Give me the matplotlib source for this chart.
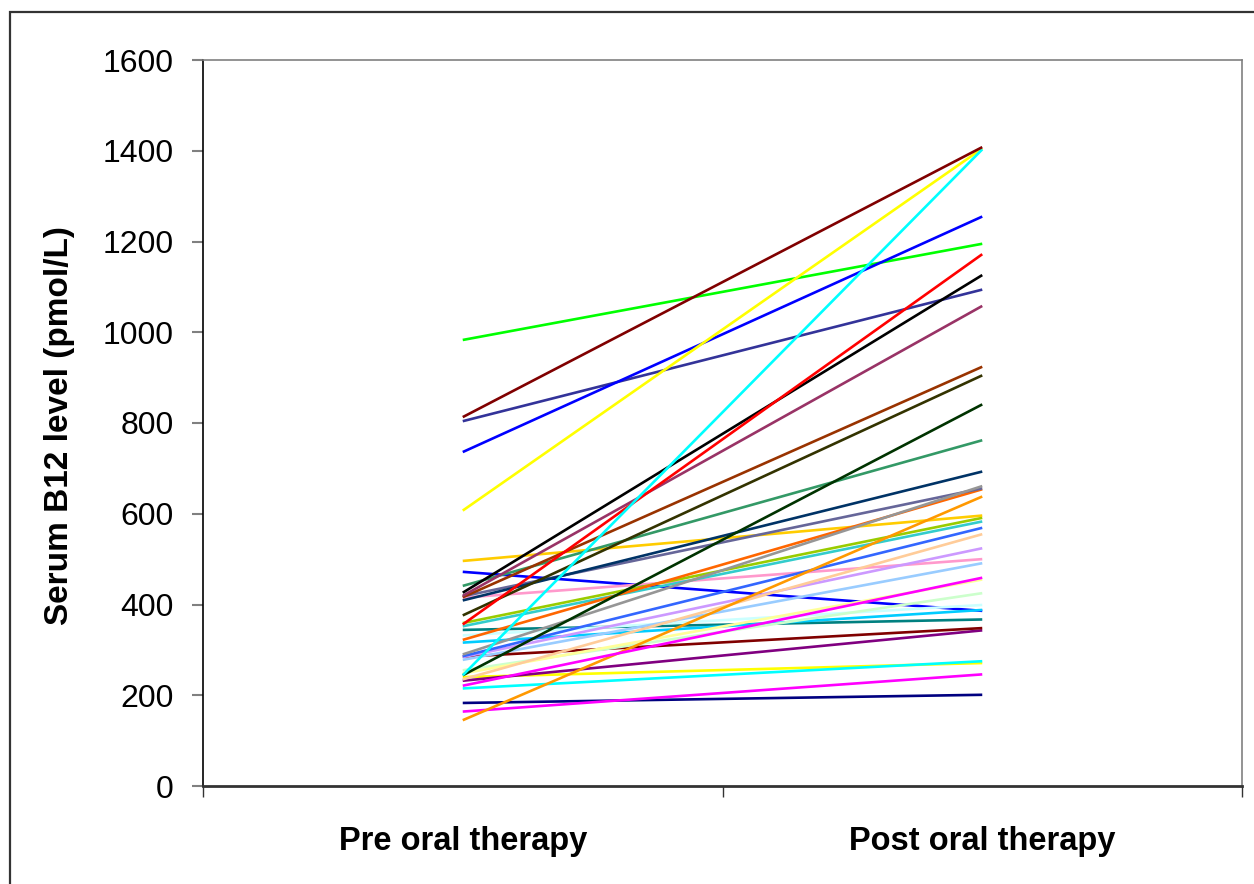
import matplotlib.pyplot as plt
from matplotlib.patches import Rectangle

plt.rcParams['font.family'] = ['Liberation Sans', 'DejaVu Sans']

categories = ['Pre oral therapy', 'Post oral therapy']

# serum B12 per patient (pmol/L)
pre = [183, 164, 240, 215, 232, 285, 344, 472, 316, 332, 255, 248, 278,
       415, 284, 235, 286, 352, 359, 496, 145, 322, 418, 290, 409, 441,
       244, 376, 416, 419, 804, 426, 356, 983, 736, 607, 244, 813, 221]
post = [201, 246, 271, 275, 343, 348, 367, 386, 388, 399, 425, 455, 491,
        500, 524, 555, 569, 583, 591, 596, 638, 654, 656, 661, 693, 762,
        841, 905, 924, 1058, 1094, 1126, 1172, 1195, 1255, 1405, 1403, 1408, 459]

colors = ['#000080', '#FF00FF', '#FFFF00', '#00FFFF', '#800080', '#800000',
          '#008080', '#0000FF', '#00CCFF', '#CCFFFF', '#CCFFCC', '#FFFF99',
          '#99CCFF', '#FF99CC', '#CC99FF', '#FFCC99', '#3366FF', '#33CCCC',
          '#99CC00', '#FFCC00', '#FF9900', '#FF6600', '#666699', '#969696',
          '#003366', '#339966', '#003300', '#333300', '#993300', '#993366',
          '#333399', '#000000', '#FF0000', '#00FF00', '#0000FF', '#FFFF00',
          '#00FFFF', '#800000', '#FF00FF']

W, H = 1254, 884
fig = plt.figure(figsize=(W / 100, H / 100), dpi=100)
ax = fig.add_axes([203 / W, 1 - 786 / H, (1242 - 203) / W, (786 - 60) / H])

xpos = [0.5, 1.5]
for a, b, c in zip(pre, post, colors):
    ax.plot(xpos, [a, b], color=c, lw=1.9, solid_capstyle='butt')

ax.set_xlim(0, 2)
ax.set_ylim(0, 1600)
ax.set_yticks(range(0, 1601, 200))
ax.set_xticks([0, 1, 2])
ax.set_xticklabels([])
ax.set_xticks(xpos, minor=True)
ax.set_xticklabels(categories, minor=True, fontsize=23.5, fontweight='bold')
ax.tick_params(axis='x', which='minor', length=0, pad=29)
ax.tick_params(axis='x', which='major', length=8, width=1, color='#333333', direction='out')
ax.tick_params(axis='y', length=8, width=1.5, color='#808080', direction='out', pad=13, labelsize=23)

for side in ['top', 'right']:
    ax.spines[side].set_color('#808080')
    ax.spines[side].set_linewidth(1.2)
ax.spines['left'].set_color('#000000')
ax.spines['left'].set_linewidth(1.2)
ax.spines['bottom'].set_color('#333333')
ax.spines['bottom'].set_linewidth(2)

ax.set_ylabel('Serum B12 level (pmol/L)', fontsize=24, fontweight='bold', va='center')
ax.yaxis.set_label_coords((60 - 203) / (1242 - 203), (786 - 426) / (786 - 60))

# outer chart frame, cut off at the right and bottom edges
fig.patches.append(Rectangle((10 / W, -0.05), 1.1, 1 - 12 / H + 0.05,
                             transform=fig.transFigure, fill=False,
                             edgecolor='#333333', lw=1.6, clip_on=False))

fig.savefig('out.png', dpi=100)
